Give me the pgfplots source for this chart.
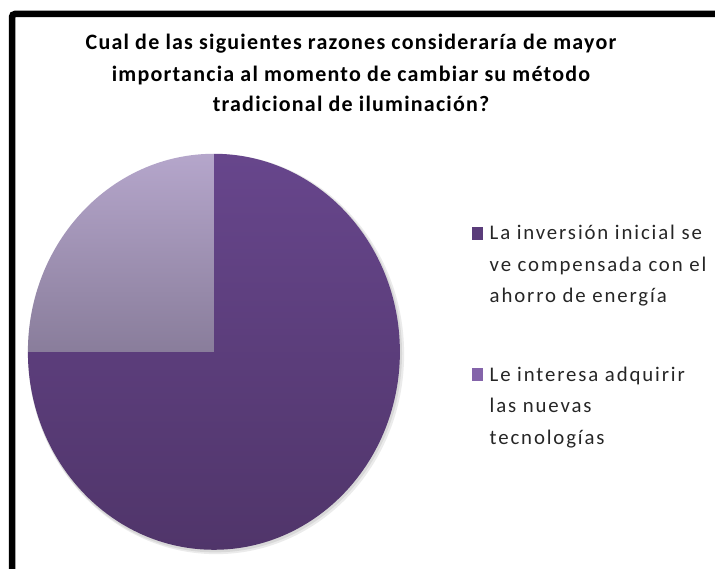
\documentclass[border=0pt]{standalone}
\usepackage{pgfplots}
\usepackage{pgfplotstable}
\pgfplotsset{compat=1.18}
\usepackage{fontspec}
\setmainfont{Carlito}
\newfontfamily\titlefont[LetterSpace=5.5]{Carlito}
\newfontfamily\legfont[LetterSpace=9]{Carlito}
\definecolor{darkTop}{RGB}{103,70,140}
\definecolor{darkBot}{RGB}{80,53,106}
\definecolor{lightTop}{RGB}{181,166,203}
\definecolor{lightBot}{RGB}{137,125,155}
\definecolor{legDark}{RGB}{90,60,122}
\definecolor{legLight}{RGB}{132,100,170}
\pgfplotstableread{
label value
A 75
B 25
}\piedata
\begin{document}
\begin{tikzpicture}[x=1pt,y=1pt]
\useasboundingbox (0,0) rectangle (715,568);
\clip (0,0) rectangle (715,568);
\fill[white] (0,0) rectangle (715,568);
% frame
\draw[line width=6.5pt, rounded corners=3pt] (12,-20) -- (12,554) -- (740,554);
% title
\tikzset{ttl/.style={anchor=base, inner sep=0pt, font=\titlefont\fontsize{22}{31}\selectfont\bfseries}}
\node[ttl] at (351,518) {Cual de las siguientes razones consideraría de mayor};
\node[ttl] at (351,486.5) {importancia al momento de cambiar su método};
\node[ttl] at (351,456) {tradicional de iluminación?};
\pgfplotstablegetelem{0}{value}\of\piedata \let\va\pgfplotsretval
\pgfplotstablegetelem{1}{value}\of\piedata \let\vb\pgfplotsretval
\pgfmathsetmacro{\tot}{\va+\vb}
\pgfmathsetmacro{\angA}{(\va/\tot)*360}
\begin{axis}[hide axis, x=186pt, y=198pt, anchor=south west, at={(5,-0.8)},
  xmin=-1.1, xmax=1.1, ymin=-1.1, ymax=1.1, clip=false]
  % soft shadow
  \fill[black, opacity=0.08] (axis cs:0.012,-0.012) ellipse [x radius=188pt, y radius=200pt];
  \fill[black, opacity=0.08] (axis cs:0.006,-0.008) ellipse [x radius=187pt, y radius=199pt];
  % dark slice (clockwise from 12 o'clock)
  \path[top color=darkTop, bottom color=darkBot]
    (axis cs:0,0) -- (axis cs:0,1)
    arc[start angle=90, delta angle=-\angA, x radius=186pt, y radius=198pt] -- cycle;
  % light slice
  \path[top color=lightTop, bottom color=lightBot]
    (axis cs:0,0) -- (axis cs:-1,0)
    arc[start angle=180, delta angle=-(360-\angA), x radius=186pt, y radius=198pt] -- cycle;
\end{axis}
% legend
\fill[legDark] (472,328) rectangle (483,341);
\fill[legLight] (472,186.5) rectangle (483,199.5);
\tikzset{leg/.style={anchor=base west, inner sep=0pt, text=black!85, font=\legfont\fontsize{20.8}{31}\selectfont}}
\node[leg] at (489.5,328) {La inversión inicial se};
\node[leg] at (489.5,296.5) {ve compensada con el};
\node[leg] at (489.5,265) {ahorro de energía};
\node[leg] at (489.5,186.5) {Le interesa adquirir};
\node[leg] at (489.5,155) {las nuevas};
\node[leg] at (489.5,123.5) {tecnologías};
\end{tikzpicture}
\end{document}
